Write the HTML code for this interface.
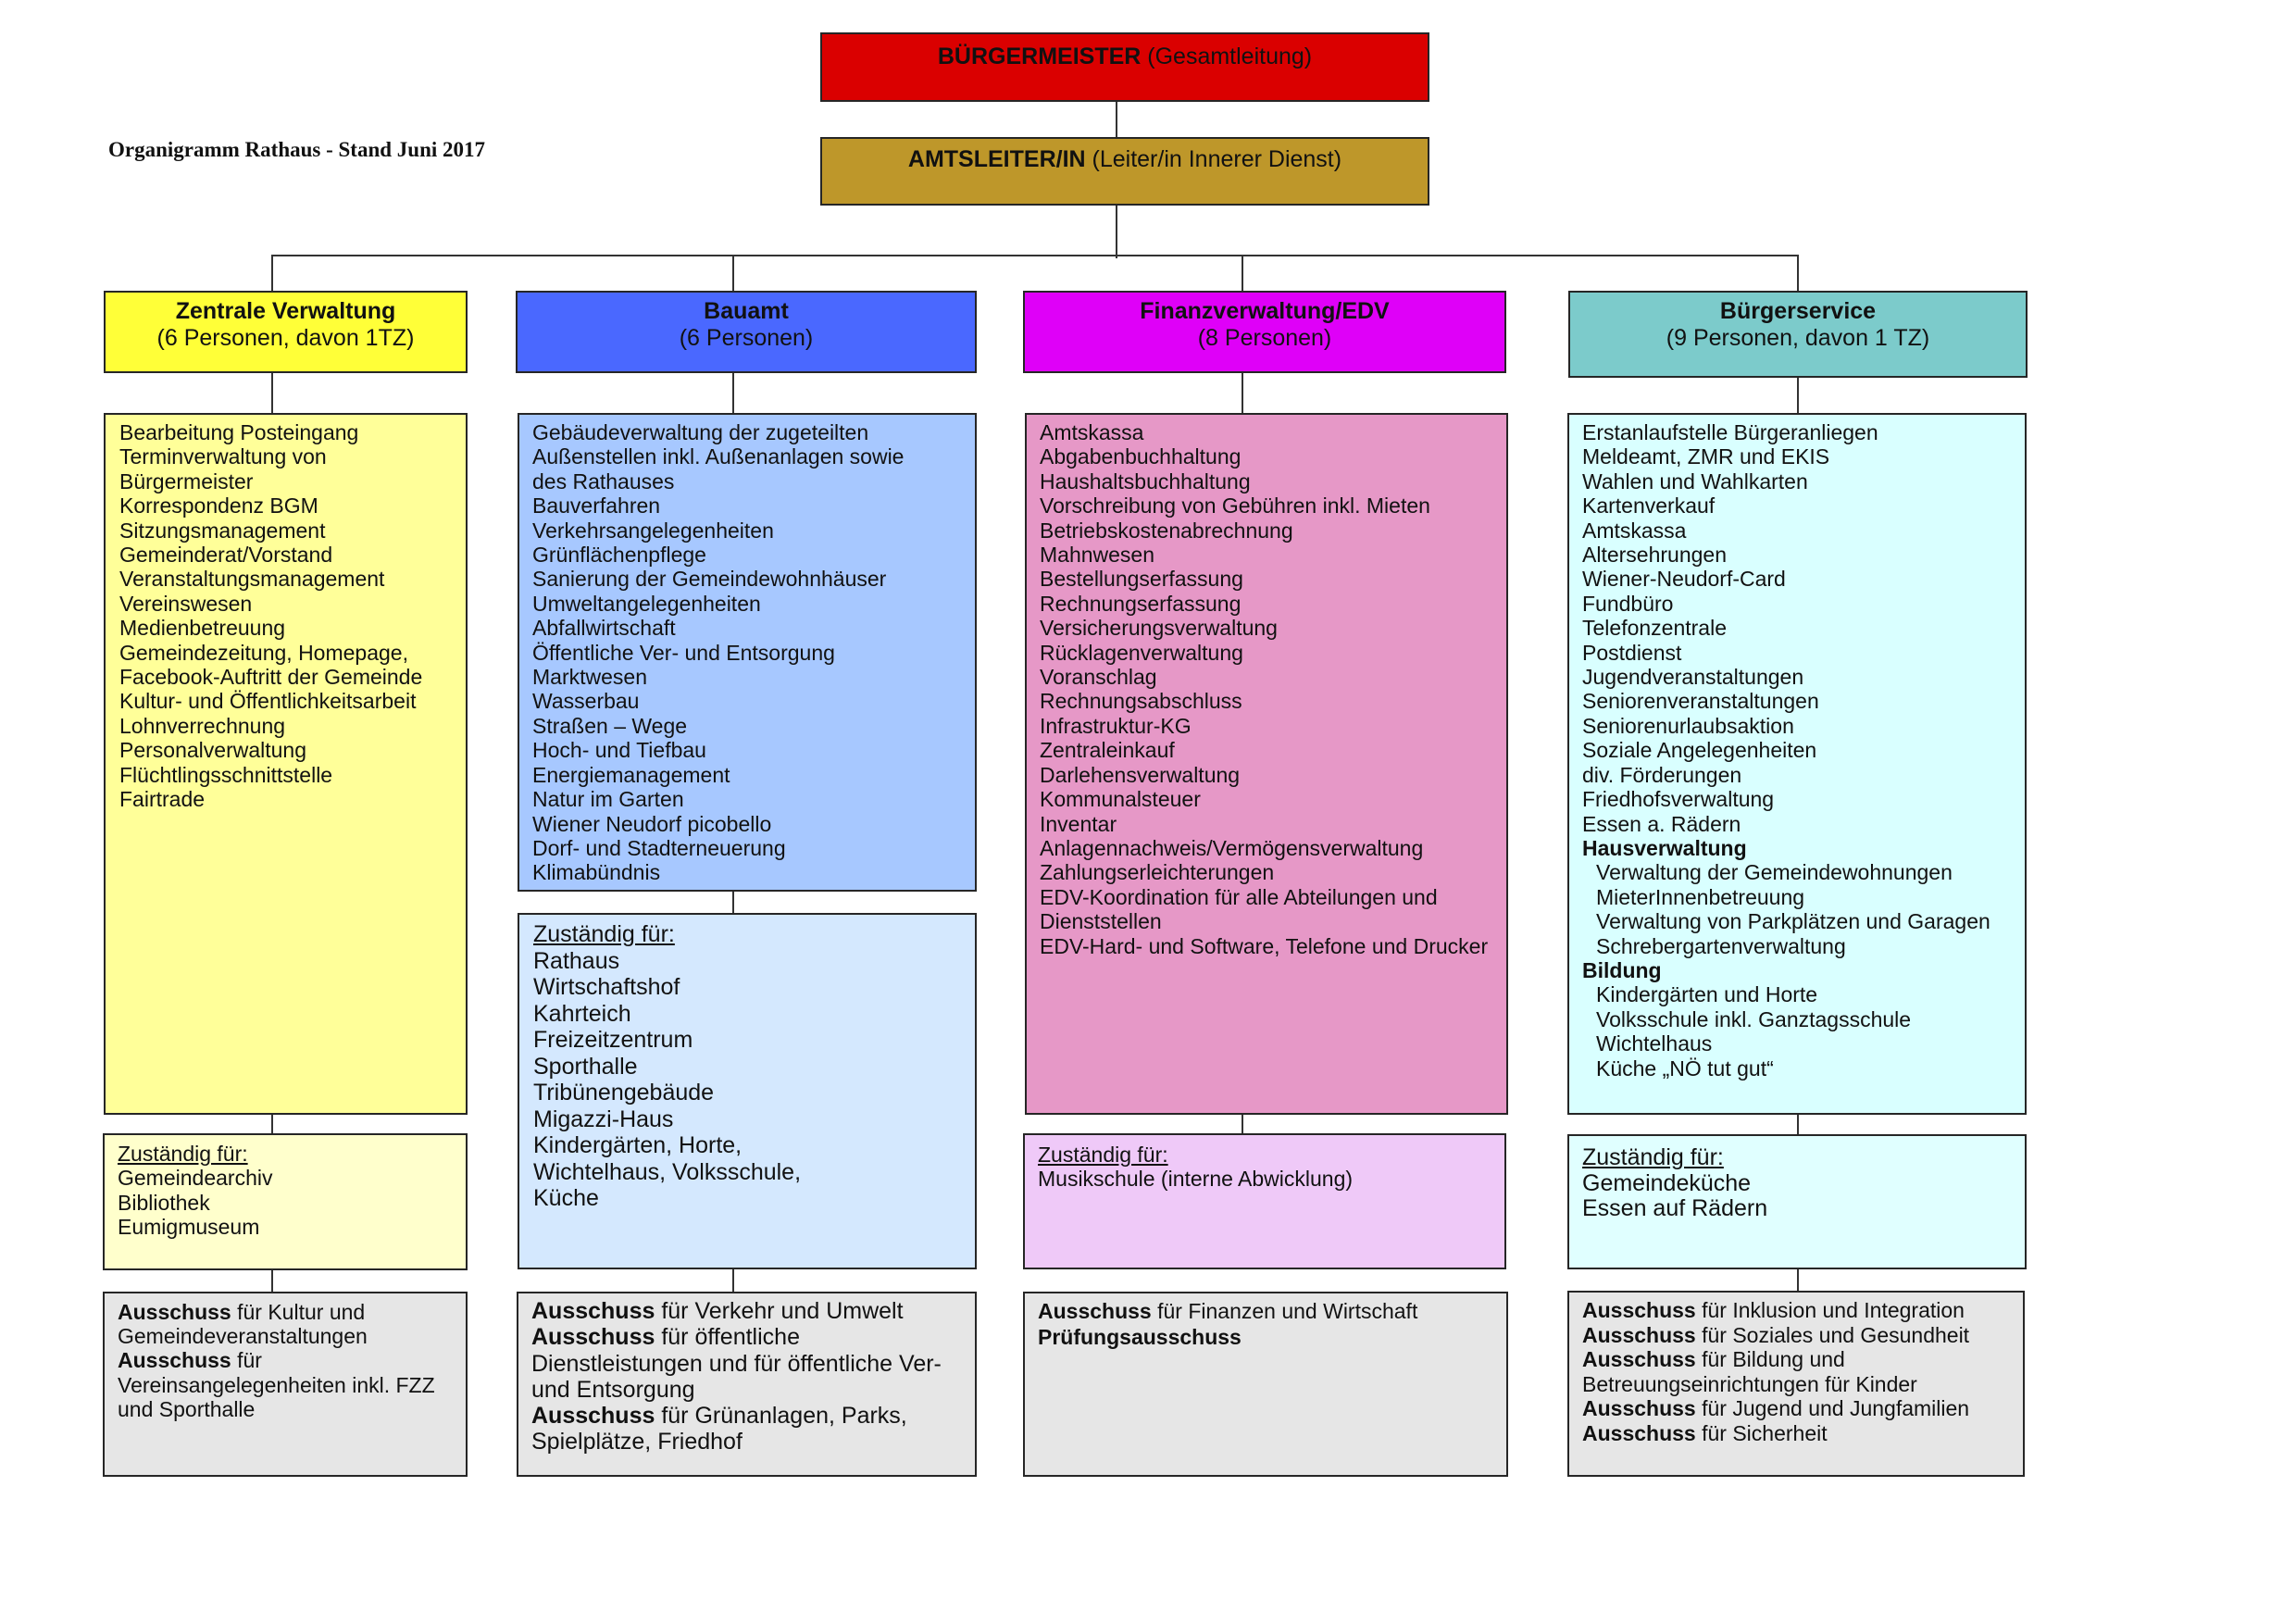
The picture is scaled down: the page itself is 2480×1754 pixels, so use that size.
<!DOCTYPE html>
<html>
<head>
<meta charset="utf-8">
<style>
  html, body { margin:0; padding:0; background:#fff; }
  #pg { position:relative; width:2480px; height:1754px; overflow:hidden; background:#fff; }
  .b { position:absolute; box-sizing:border-box; border:2px solid #262626; }
  .t { position:absolute; white-space:nowrap; font-family:"Liberation Sans", Arial, sans-serif; color:#111; }
  .l { position:absolute; background:#333; }
  .c22 { font-size:23px; line-height:26.4px; }
  .c25 { font-size:25px; line-height:28.5px; }
  .hd { font-size:25px; line-height:29px; text-align:center; }
  u { text-decoration:underline; text-underline-offset:2px; }
  b { font-weight:bold; }
  .ind { padding-left:15px; }
</style>
</head>
<body>
<div id="pg">

  <!-- Title -->
  <div class="t" style="left:117px; top:148px; font-family:'Liberation Serif','Times New Roman',serif; font-weight:bold; font-size:23px; line-height:27px;">Organigramm Rathaus - Stand Juni 2017</div>

  <!-- Top boxes -->
  <div class="b" style="left:886px; top:35px; width:658px; height:75px; background:#da0000;"></div>
  <div class="t" style="left:886px; top:47px; width:658px; text-align:center; font-size:25px; line-height:29px;"><b>BÜRGERMEISTER</b> (Gesamtleitung)</div>

  <div class="b" style="left:886px; top:148px; width:658px; height:74px; background:#be972a;"></div>
  <div class="t" style="left:886px; top:158px; width:658px; text-align:center; font-size:25px; line-height:29px;"><b>AMTSLEITER/IN</b> (Leiter/in Innerer Dienst)</div>

  <!-- Top connectors -->
  <div class="l" style="left:1205px; top:110px; width:2px; height:38px;"></div>
  <div class="l" style="left:1205px; top:222px; width:2px; height:57px;"></div>
  <div class="l" style="left:293px; top:275px; width:1650px; height:2px;"></div>
  <div class="l" style="left:293px; top:276px; width:2px; height:38px;"></div>
  <div class="l" style="left:791px; top:276px; width:2px; height:38px;"></div>
  <div class="l" style="left:1341px; top:276px; width:2px; height:38px;"></div>
  <div class="l" style="left:1941px; top:276px; width:2px; height:38px;"></div>

  <!-- Headers -->
  <div class="b" style="left:112px; top:314px; width:393px; height:89px; background:#ffff38;"></div>
  <div class="t hd" style="left:112px; top:322px; width:393px;"><b>Zentrale Verwaltung</b><br>(6 Personen, davon 1TZ)</div>

  <div class="b" style="left:557px; top:314px; width:498px; height:89px; background:#4a68ff;"></div>
  <div class="t hd" style="left:557px; top:322px; width:498px;"><b>Bauamt</b><br>(6 Personen)</div>

  <div class="b" style="left:1105px; top:314px; width:522px; height:89px; background:#df00f8;"></div>
  <div class="t hd" style="left:1105px; top:322px; width:522px;"><b>Finanzverwaltung/EDV</b><br>(8 Personen)</div>

  <div class="b" style="left:1694px; top:314px; width:496px; height:94px; background:#7ccbcb;"></div>
  <div class="t hd" style="left:1694px; top:322px; width:496px;"><b>Bürgerservice</b><br>(9 Personen, davon 1 TZ)</div>

  <!-- Header to content connectors -->
  <div class="l" style="left:293px; top:403px; width:2px; height:43px;"></div>
  <div class="l" style="left:791px; top:403px; width:2px; height:43px;"></div>
  <div class="l" style="left:1341px; top:403px; width:2px; height:43px;"></div>
  <div class="l" style="left:1941px; top:408px; width:2px; height:38px;"></div>

  <!-- Content boxes -->
  <div class="b" style="left:112px; top:446px; width:393px; height:758px; background:#ffff99;"></div>
  <div class="t c22" style="left:129px; top:454px;">Bearbeitung Posteingang<br>Terminverwaltung von<br>Bürgermeister<br>Korrespondenz BGM<br>Sitzungsmanagement<br>Gemeinderat/Vorstand<br>Veranstaltungsmanagement<br>Vereinswesen<br>Medienbetreuung<br>Gemeindezeitung, Homepage,<br>Facebook-Auftritt der Gemeinde<br>Kultur- und Öffentlichkeitsarbeit<br>Lohnverrechnung<br>Personalverwaltung<br>Flüchtlingsschnittstelle<br>Fairtrade</div>

  <div class="b" style="left:559px; top:446px; width:496px; height:517px; background:#a7c8ff;"></div>
  <div class="t c22" style="left:575px; top:454px;">Gebäudeverwaltung der zugeteilten<br>Außenstellen inkl. Außenanlagen sowie<br>des Rathauses<br>Bauverfahren<br>Verkehrsangelegenheiten<br>Grünflächenpflege<br>Sanierung der Gemeindewohnhäuser<br>Umweltangelegenheiten<br>Abfallwirtschaft<br>Öffentliche Ver- und Entsorgung<br>Marktwesen<br>Wasserbau<br>Straßen – Wege<br>Hoch- und Tiefbau<br>Energiemanagement<br>Natur im Garten<br>Wiener Neudorf picobello<br>Dorf- und Stadterneuerung<br>Klimabündnis</div>

  <div class="b" style="left:1107px; top:446px; width:522px; height:758px; background:#e698c7;"></div>
  <div class="t c22" style="left:1123px; top:454px;">Amtskassa<br>Abgabenbuchhaltung<br>Haushaltsbuchhaltung<br>Vorschreibung von Gebühren inkl. Mieten<br>Betriebskostenabrechnung<br>Mahnwesen<br>Bestellungserfassung<br>Rechnungserfassung<br>Versicherungsverwaltung<br>Rücklagenverwaltung<br>Voranschlag<br>Rechnungsabschluss<br>Infrastruktur-KG<br>Zentraleinkauf<br>Darlehensverwaltung<br>Kommunalsteuer<br>Inventar<br>Anlagennachweis/Vermögensverwaltung<br>Zahlungserleichterungen<br>EDV-Koordination für alle Abteilungen und<br>Dienststellen<br>EDV-Hard- und Software, Telefone und Drucker</div>

  <div class="b" style="left:1693px; top:446px; width:496px; height:758px; background:#d9ffff;"></div>
  <div class="t c22" style="left:1709px; top:454px;">Erstanlaufstelle Bürgeranliegen<br>Meldeamt, ZMR und EKIS<br>Wahlen und Wahlkarten<br>Kartenverkauf<br>Amtskassa<br>Altersehrungen<br>Wiener-Neudorf-Card<br>Fundbüro<br>Telefonzentrale<br>Postdienst<br>Jugendveranstaltungen<br>Seniorenveranstaltungen<br>Seniorenurlaubsaktion<br>Soziale Angelegenheiten<br>div. Förderungen<br>Friedhofsverwaltung<br>Essen a. Rädern<br><b>Hausverwaltung</b><br><span class="ind">Verwaltung der Gemeindewohnungen</span><br><span class="ind">MieterInnenbetreuung</span><br><span class="ind">Verwaltung von Parkplätzen und Garagen</span><br><span class="ind">Schrebergartenverwaltung</span><br><b>Bildung</b><br><span class="ind">Kindergärten und Horte</span><br><span class="ind">Volksschule inkl. Ganztagsschule</span><br><span class="ind">Wichtelhaus</span><br><span class="ind">Küche „NÖ tut gut“</span></div>

  <!-- Content to Zuständig connectors -->
  <div class="l" style="left:293px; top:1204px; width:2px; height:20px;"></div>
  <div class="l" style="left:791px; top:963px; width:2px; height:23px;"></div>
  <div class="l" style="left:1341px; top:1204px; width:2px; height:20px;"></div>
  <div class="l" style="left:1941px; top:1204px; width:2px; height:21px;"></div>

  <!-- Zuständig boxes -->
  <div class="b" style="left:111px; top:1224px; width:394px; height:148px; background:#ffffcc;"></div>
  <div class="t c22" style="left:127px; top:1233px;"><u>Zuständig für:</u><br>Gemeindearchiv<br>Bibliothek<br>Eumigmuseum</div>

  <div class="b" style="left:559px; top:986px; width:496px; height:385px; background:#d4e8fe;"></div>
  <div class="t c25" style="left:576px; top:995px;"><u>Zuständig für:</u><br>Rathaus<br>Wirtschaftshof<br>Kahrteich<br>Freizeitzentrum<br>Sporthalle<br>Tribünengebäude<br>Migazzi-Haus<br>Kindergärten, Horte,<br>Wichtelhaus, Volksschule,<br>Küche</div>

  <div class="b" style="left:1105px; top:1224px; width:522px; height:147px; background:#efc9f8;"></div>
  <div class="t c22" style="left:1121px; top:1234px;"><u>Zuständig für:</u><br>Musikschule (interne Abwicklung)</div>

  <div class="b" style="left:1693px; top:1225px; width:496px; height:146px; background:#e0ffff;"></div>
  <div class="t" style="left:1709px; top:1237px; font-size:25px; line-height:27.5px;"><u>Zuständig für:</u><br>Gemeindeküche<br>Essen auf Rädern</div>

  <!-- Zuständig to Ausschuss connectors -->
  <div class="l" style="left:293px; top:1372px; width:2px; height:23px;"></div>
  <div class="l" style="left:791px; top:1371px; width:2px; height:24px;"></div>
  <div class="l" style="left:1941px; top:1371px; width:2px; height:23px;"></div>

  <!-- Ausschuss boxes -->
  <div class="b" style="left:111px; top:1395px; width:394px; height:200px; background:#e6e6e6;"></div>
  <div class="t" style="left:127px; top:1404px; font-size:23px; line-height:26.2px;"><b>Ausschuss</b> für Kultur und<br>Gemeindeveranstaltungen<br><b>Ausschuss</b> für<br>Vereinsangelegenheiten inkl. FZZ<br>und Sporthalle</div>

  <div class="b" style="left:558px; top:1395px; width:497px; height:200px; background:#e6e6e6;"></div>
  <div class="t" style="left:574px; top:1402px; font-size:25px; line-height:28.3px;"><b>Ausschuss</b> für Verkehr und Umwelt<br><b>Ausschuss</b> für öffentliche<br>Dienstleistungen und für öffentliche Ver-<br>und Entsorgung<br><b>Ausschuss</b> für Grünanlagen, Parks,<br>Spielplätze, Friedhof</div>

  <div class="b" style="left:1105px; top:1395px; width:524px; height:200px; background:#e6e6e6;"></div>
  <div class="t" style="left:1121px; top:1403px; font-size:23px; line-height:27.7px;"><b>Ausschuss</b> für Finanzen und Wirtschaft<br><b>Prüfungsausschuss</b></div>

  <div class="b" style="left:1693px; top:1394px; width:494px; height:201px; background:#e6e6e6;"></div>
  <div class="t" style="left:1709px; top:1402px; font-size:23px; line-height:26.5px;"><b>Ausschuss</b> für Inklusion und Integration<br><b>Ausschuss</b> für Soziales und Gesundheit<br><b>Ausschuss</b> für Bildung und<br>Betreuungseinrichtungen für Kinder<br><b>Ausschuss</b> für Jugend und Jungfamilien<br><b>Ausschuss</b> für Sicherheit</div>

</div>
</body>
</html>
